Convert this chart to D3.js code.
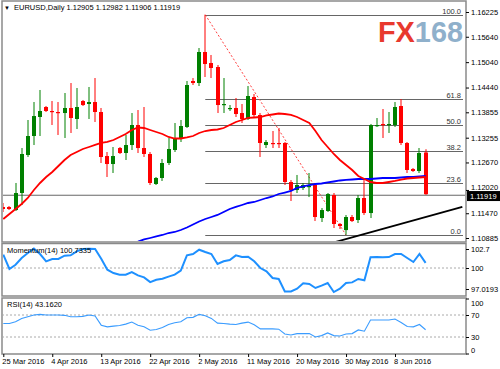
<!DOCTYPE html>
<html>
<head>
<meta charset="utf-8">
<script src="https://cdn.jsdelivr.net/npm/d3@7"></script>
<style>
body { margin:0; background:#fff; }
text { font-family: "Liberation Sans", Arial, sans-serif; }
</style>
</head>
<body>
<div id="chart"></div>
<script>
// daily bars, one per entry (broker shows sunday bars too)
var opens = [1.11617,1.11617,1.11546,1.11948,1.12846,1.13295,1.13744,1.13980,1.13886,1.13862,
  1.13838,1.13957,1.13697,1.14122,1.14051,1.14098,1.13862,1.12822,1.12633,1.13011,
  1.12893,1.13082,1.13555,1.13011,1.12870,1.12161,1.12303,1.12657,1.12964,1.13224,
  1.13508,1.14595,1.14547,1.15280,1.15020,1.14925,1.14027,1.13933,1.13957,1.13838,
  1.13697,1.14216,1.13791,1.13082,1.13130,1.13130,1.13130,1.12208,1.12019,1.12066,
  1.12090,1.12137,1.11357,1.11523,1.11901,1.11216,1.11072,1.11381,1.11310,1.11830,
  1.11475,1.13531,1.13579,1.13555,1.13555,1.14004,1.13130,1.12515,1.12468,1.12905];
var highs = [1.11712,1.11640,1.12185,1.13011,1.13673,1.14098,1.14382,1.14004,1.14122,1.14098,
  1.14311,1.14547,1.14429,1.14146,1.14453,1.14665,1.13957,1.12917,1.13035,1.13035,
  1.13319,1.13838,1.13909,1.13980,1.12917,1.12326,1.12752,1.13248,1.13602,1.13673,
  1.14595,1.14665,1.15374,1.16160,1.15209,1.14973,1.14665,1.14027,1.14193,1.14051,
  1.14476,1.14287,1.13838,1.13200,1.13413,1.13484,1.13153,1.12255,1.12374,1.12185,
  1.12421,1.12185,1.11593,1.11948,1.11948,1.11239,1.11428,1.11428,1.11901,1.12255,
  1.13579,1.13720,1.13933,1.13862,1.14098,1.14169,1.13153,1.12539,1.13011,1.12982];
var lows = [1.11499,1.11546,1.11523,1.11664,1.12799,1.13082,1.13295,1.13862,1.13555,1.13319,
  1.13248,1.13366,1.13460,1.14004,1.13697,1.13626,1.12657,1.12326,1.12421,1.12870,
  1.12728,1.12964,1.12893,1.12799,1.12137,1.12137,1.12232,1.12610,1.12917,1.13153,
  1.13484,1.14500,1.14476,1.14689,1.14665,1.13838,1.13838,1.13886,1.13744,1.13602,
  1.13673,1.13744,1.12799,1.13011,1.13011,1.13011,1.12137,1.11759,1.11948,1.12019,
  1.11853,1.11286,1.11263,1.11499,1.11121,1.11097,1.10960,1.11263,1.11239,1.11428,
  1.11357,1.13508,1.13248,1.13366,1.13508,1.13082,1.12421,1.12445,1.12421,1.11906];
var closes = [1.11570,1.11570,1.11948,1.12870,1.13295,1.13767,1.13886,1.13886,1.13862,1.13838,
  1.13957,1.13720,1.13980,1.14027,1.14098,1.13862,1.12799,1.12633,1.12822,1.12893,
  1.13082,1.13555,1.13011,1.12870,1.12185,1.12303,1.12657,1.12988,1.13224,1.13531,
  1.14500,1.14547,1.15280,1.14996,1.14902,1.14027,1.14051,1.13957,1.13815,1.13697,
  1.14240,1.13791,1.13130,1.13153,1.13106,1.13106,1.12208,1.12019,1.12137,1.12137,
  1.12114,1.11381,1.11546,1.11924,1.11216,1.11168,1.11381,1.11286,1.11830,1.11475,
  1.13555,1.13555,1.13555,1.13579,1.13980,1.13130,1.12492,1.12468,1.12893,1.11919];

// moving averages
var maRed = [1.11334,1.11452,1.11570,1.11688,1.11830,1.12019,1.12185,1.12326,1.12445,1.12586,
  1.12728,1.12846,1.12917,1.12988,1.13035,1.13083,1.13130,1.13154,1.13201,1.13272,
  1.13343,1.13437,1.13496,1.13484,1.13437,1.13390,1.13343,1.13272,1.13236,1.13236,
  1.13260,1.13295,1.13366,1.13413,1.13437,1.13449,1.13484,1.13555,1.13626,1.13673,
  1.13721,1.13732,1.13744,1.13780,1.13803,1.13827,1.13815,1.13792,1.13744,1.13673,
  1.13603,1.13413,1.13201,1.13035,1.12870,1.12728,1.12610,1.12492,1.12350,1.12279,
  1.12208,1.12185,1.12185,1.12208,1.12232,1.12267,1.12291,1.12303,1.12315,1.12326];
var maBlue = [null,null,null,null,null,null,null,null,null,null,
  null,null,null,null,null,null,null,null,null,1.10672,
  1.10720,1.10767,1.10802,1.10850,1.10885,1.10921,1.10956,1.11003,1.11027,1.11074,
  1.11133,1.11204,1.11275,1.11334,1.11381,1.11429,1.11499,1.11570,1.11618,1.11665,
  1.11712,1.11736,1.11783,1.11830,1.11866,1.11925,1.11960,1.11996,1.12067,1.12102,
  1.12137,1.12161,1.12173,1.12197,1.12220,1.12244,1.12256,1.12267,1.12279,1.12279,
  1.12279,1.12291,1.12303,1.12303,1.12303,1.12315,1.12326,1.12326,1.12338,1.12350];

var momentum = [101.9,99.86,100.47,101.42,102.13,102.75,101.99,100.95,101.28,101.28,
  101.75,101.8,102.37,102.7,102.75,102.7,101.33,99.76,99.29,99.05,
  99.05,99.43,98.96,98.67,98.0,98.34,98.48,98.77,99.05,99.62,
  101.8,101.99,102.6,102.27,101.99,100.57,100.95,101.14,101.8,101.56,
  101.61,100.95,100.0,99.53,98.58,98.44,96.68,96.68,97.06,97.82,
  97.73,97.16,97.49,97.87,96.59,97.06,97.87,97.96,98.44,98.25,
  101.52,101.56,101.52,101.56,101.99,101.99,101.42,100.85,101.99,100.7335];
var rsi = [54.6,54.6,57.7,63.8,66.9,70,71.2,70,70,70,
  69.4,66.9,66.9,67.5,70,68.2,51.5,48.5,49.7,50.9,
  53.4,57.1,51.5,48.5,42.3,43.5,47.2,52.8,55.8,57.7,
  65.1,65.7,71.2,68.8,63.8,55.2,54.6,53.4,52.8,55.2,
  57.1,52.2,44.8,44.8,44.8,44.2,35.5,33.7,36.2,36.2,
  36.2,30,32.5,37.4,32.5,31.8,35.5,36.2,42.9,40.5,
  60.8,60.8,60.8,60.8,62.6,56.5,49.1,48.5,52.8,43.162];

var dateLabels = ["25 Mar 2016","4 Apr 2016","13 Apr 2016","22 Apr 2016","2 May 2016",
  "11 May 2016","20 May 2016","30 May 2016","8 Jun 2016"];
var dateBars = [0,8,16,24,32,40,48,56,64];
var priceTicks = [1.16225,1.15640,1.15040,1.14440,1.13855,1.13255,1.12670,1.12020,1.11470,1.10885];
var momTicks = [102.7,100,97.0193];
var rsiTicks = [100,70,30,0];
var fibLevels = [100.0,61.8,50.0,38.2,23.6,0.0];
var fibHigh = {bar:33, price:1.16160};
var fibLow = {bar:56, price:1.10955};
var trendPts = [{bar:54, price:1.10780},{bar:75, price:1.11620}];
var bid = 1.11919;

var W = 500, H = 369;
var L = 2, R = 466;
var FS = "7.5px";
var main = {top:1, bottom:242}, mom = {top:243.5, bottom:296}, rsiP = {top:298, bottom:354};

var svg = d3.select("#chart").append("svg")
  .attr("width", W).attr("height", H);

var x = d3.scaleLinear().domain([0, 69]).range([3.3, 425.6]);
var y = d3.scaleLinear().domain([1.10885, 1.16225]).range([238, 12]);
var yM = d3.scaleLinear().domain([97.0193, 102.7]).range([289, 249]);
var yR = d3.scaleLinear().domain([0, 100]).range([353.5, 298.5]);

var defs = svg.append("defs");
[["clipMain", main], ["clipMom", mom], ["clipRsi", rsiP]].forEach(function(c){
  defs.append("clipPath").attr("id", c[0]).append("rect")
    .attr("x", L+1).attr("y", c[1].top+1)
    .attr("width", R-L-2).attr("height", c[1].bottom-c[1].top-2);
});

// watermark
var logo = svg.append("text")
  .attr("x", 378).attr("y", 42)
  .style("font-weight", "bold").style("font-size", "30px")
  .attr("textLength", 85).attr("lengthAdjust", "spacingAndGlyphs");
logo.append("tspan").attr("fill", "#e8392e").text("FX");
logo.append("tspan").attr("fill", "#8fb0cb").text("168");

var gMain = svg.append("g").attr("clip-path", "url(#clipMain)");

// bid line
gMain.append("line")
  .attr("x1", L).attr("x2", R)
  .attr("y1", y(bid) + 1).attr("y2", y(bid) + 1)
  .attr("stroke", "#666").attr("stroke-width", 1);

// fibo retracement
var fibX = x(fibHigh.bar);
fibLevels.forEach(function(lv){
  var p = fibLow.price + (fibHigh.price - fibLow.price) * lv / 100;
  var yy = Math.round(y(p)) + 0.5;
  gMain.append("line")
    .attr("x1", fibX).attr("x2", 463)
    .attr("y1", yy).attr("y2", yy)
    .attr("stroke", "#666").attr("stroke-width", 1);
  gMain.append("text")
    .attr("x", 461).attr("y", yy - 2)
    .attr("text-anchor", "end")
    .style("font-size", FS).attr("fill", "#333")
    .text(lv.toFixed(1));
});
gMain.append("line")
  .attr("x1", x(fibHigh.bar)).attr("y1", y(fibHigh.price))
  .attr("x2", x(fibLow.bar)).attr("y2", y(fibLow.price))
  .attr("stroke", "#ff4040").attr("stroke-width", 1)
  .attr("stroke-dasharray", "2,2");

// candles
var idx = d3.range(opens.length);
var col = function(i){ return closes[i] < opens[i] ? "#ff0000" : "#008000"; };
gMain.selectAll(".wick").data(idx).enter().append("line")
  .attr("x1", function(i){ return Math.round(x(i)); })
  .attr("x2", function(i){ return Math.round(x(i)); })
  .attr("y1", function(i){ return y(highs[i]); })
  .attr("y2", function(i){ return y(lows[i]); })
  .attr("stroke", col).attr("stroke-width", 1);
gMain.selectAll(".body").data(idx).enter().append("rect")
  .attr("x", function(i){ return Math.round(x(i)) - 2; })
  .attr("width", 4)
  .attr("y", function(i){ return y(Math.max(opens[i], closes[i])); })
  .attr("height", function(i){ return Math.max(1.2, Math.abs(y(opens[i]) - y(closes[i]))); })
  .attr("fill", col);

// moving averages
var lineP = d3.line()
  .defined(function(d){ return d != null; })
  .x(function(d, i){ return x(i); })
  .y(function(d){ return y(d); });
gMain.append("path").datum(maBlue).attr("d", lineP)
  .attr("fill", "none").attr("stroke", "#0000ff").attr("stroke-width", 1.8);
gMain.append("path").datum(maRed).attr("d", lineP)
  .attr("fill", "none").attr("stroke", "#ff0000").attr("stroke-width", 1.8);

// trendline
gMain.append("line")
  .attr("x1", x(trendPts[0].bar)).attr("y1", y(trendPts[0].price))
  .attr("x2", x(trendPts[1].bar)).attr("y2", y(trendPts[1].price))
  .attr("stroke", "#000").attr("stroke-width", 1.8);

// momentum panel
var gMom = svg.append("g").attr("clip-path", "url(#clipMom)");
gMom.append("line").attr("x1", L).attr("x2", R)
  .attr("y1", yM(100)).attr("y2", yM(100))
  .attr("stroke", "#aaa").attr("stroke-dasharray", "2,2");
gMom.append("path").datum(momentum)
  .attr("d", d3.line().x(function(d, i){ return x(i); }).y(function(d){ return yM(d); }))
  .attr("fill", "none").attr("stroke", "#1e90ff").attr("stroke-width", 2);

// rsi panel
var gRsi = svg.append("g").attr("clip-path", "url(#clipRsi)");
[70, 30].forEach(function(v){
  gRsi.append("line").attr("x1", L).attr("x2", R)
    .attr("y1", yR(v)).attr("y2", yR(v))
    .attr("stroke", "#aaa").attr("stroke-dasharray", "2,2");
});
gRsi.append("path").datum(rsi)
  .attr("d", d3.line().x(function(d, i){ return x(i); }).y(function(d){ return yR(d); }))
  .attr("fill", "none").attr("stroke", "#3a9cff").attr("stroke-width", 1.1);

// frames
[main, mom, rsiP].forEach(function(p){
  svg.append("rect").attr("x", L).attr("y", p.top)
    .attr("width", R-L).attr("height", p.bottom-p.top)
    .attr("fill", "none").attr("stroke", "#8a8a8a").attr("stroke-width", 1.5);
});

// axes
function styleAxis(g){
  g.select(".domain").remove();
  g.selectAll("text").style("font-size", FS).attr("fill", "#000")
    .style("font-family", "'Liberation Sans', Arial, sans-serif");
  g.selectAll("line").attr("stroke", "#000");
}
var pAx = svg.append("g").attr("transform", "translate(" + R + ",0)")
  .call(d3.axisRight(y).tickValues(priceTicks).tickFormat(d3.format(".5f")).tickSize(3).tickPadding(2))
  .call(styleAxis);
// label just above the bid box sits a little higher, as in the terminal
pAx.selectAll(".tick").filter(function(d){ return d === 1.12020; }).select("text").attr("dy", "-0.05em");
svg.append("g").attr("transform", "translate(" + R + ",0)")
  .call(d3.axisRight(yM).tickValues(momTicks).tickFormat(function(d){ return String(d); }).tickSize(3).tickPadding(2))
  .call(styleAxis);
var rAx = svg.append("g").attr("transform", "translate(" + R + ",0)")
  .call(d3.axisRight(yR).tickValues(rsiTicks).tickSize(3).tickPadding(2))
  .call(styleAxis);
rAx.selectAll(".tick").filter(function(d){ return d === 100; }).select("text").attr("dy", "0.9em");
rAx.selectAll(".tick").filter(function(d){ return d === 0; }).select("text").attr("dy", "-0.2em");

var xAx = svg.append("g").attr("transform", "translate(0," + rsiP.bottom + ")")
  .call(d3.axisBottom(x).tickValues(dateBars)
    .tickFormat(function(d, i){ return dateLabels[i]; }).tickSize(3).tickPadding(2))
  .call(styleAxis);
xAx.selectAll("text").attr("text-anchor", "start").attr("dx", "-1.5");

// bid label
var bidY = y(bid) + 1.8;
svg.append("rect").attr("x", R + 1).attr("y", bidY - 5)
  .attr("width", 33).attr("height", 10).attr("fill", "#000");
svg.append("text").attr("x", R + 4).attr("y", bidY + 2.7)
  .style("font-size", FS).attr("fill", "#fff").text(d3.format(".5f")(bid));

// headers
svg.append("text").attr("x", 4).attr("y", 10).style("font-size", "6px").text("\u25BC");
svg.append("text").attr("x", 14).attr("y", 10).style("font-size", FS)
  .text("EURUSD,Daily  " + [opens[69], highs[69], lows[69], closes[69]].map(d3.format(".5f")).join(" "));
svg.append("text").attr("x", 7).attr("y", 253).style("font-size", FS)
  .text("Momentum(14) " + momentum[69].toFixed(4));
svg.append("text").attr("x", 7).attr("y", 307).style("font-size", FS)
  .text("RSI(14) " + rsi[69].toFixed(4));
</script>
</body>
</html>
